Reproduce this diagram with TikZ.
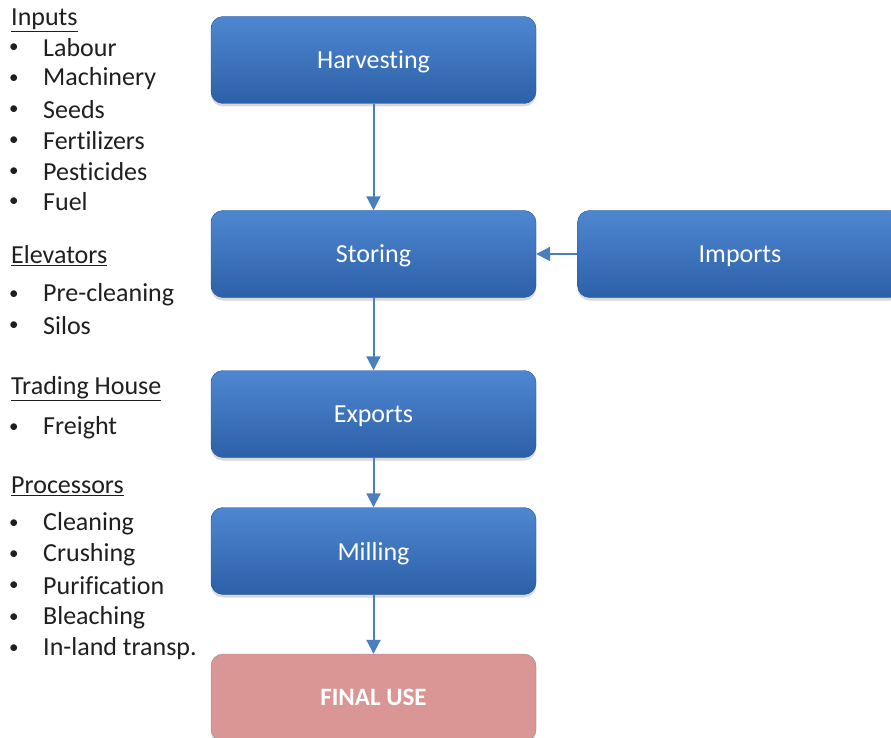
\documentclass[tikz,border=0pt]{standalone}
\usepackage{fontspec}
\setmainfont[Ligatures={NoCommon,NoRequired,NoContextual},RawFeature={-liga;-clig;-dlig}]{Carlito}
\usetikzlibrary{arrows.meta,shadows}
\definecolor{boxtop}{RGB}{78,135,208}
\definecolor{boxbot}{RGB}{44,96,168}
\definecolor{flowline}{RGB}{74,126,190}
\definecolor{finalrose}{RGB}{217,150,148}

\begin{document}
\begin{tikzpicture}[x=1pt,y=-1pt,line join=round,
  stage/.style={rounded corners=12pt,minimum width=325pt,minimum height=87pt,
    top color=boxtop,bottom color=boxbot,draw=boxbot!85!black,line width=0.4pt,
    text=white,text depth=0pt,font=\fontsize{26}{30}\selectfont,
    drop shadow={opacity=0.3,shadow xshift=0pt,shadow yshift=-3pt}},
  flow/.style={flowline,line width=2pt,-{Triangle[length=14pt,width=14pt]}},
  item/.style={anchor=west,inner sep=0pt,text=black!88,font=\fontsize{26}{30}\selectfont}]
  \useasboundingbox (0,0) rectangle (891,738); \clip (0,0) rectangle (891,738);
  \node[stage] (harv) at (373.5,60) {Harvesting};
  \node[stage] (stor) at (373.5,254) {Storing};
  \node[stage] (imp) at (740,254) {Imports};
  \node[stage] (expo) at (373.5,414) {Exports};
  \node[stage] (mill) at (373.5,551) {Milling};
  \node[stage,top color=finalrose,bottom color=finalrose,draw=black!45,
    font=\fontsize{25}{28}\selectfont\bfseries] (final) at (373.5,697.5) {FINAL USE};
  \foreach \a/\b in {harv/stor,imp/stor,stor/expo,expo/mill,mill/final} \draw[flow] (\a) -- (\b);
  \foreach \y/\t [count=\i] in {20/Inputs,256/Elevators,389/Trading House,486/Processors}
    \node[item] (head\i) at (11,\y) {\underline{\t}};
  \foreach \y/\t [count=\i] in {48/Labour,79/Machinery,110/Seeds,141/Fertilizers,172/Pesticides,202/Fuel,
    295/Pre-cleaning,326/Silos,428/Freight,524/Cleaning,555/Crushing,586/Purification,618/Bleaching,649/In-land transp.}
    {\node[item,font=\fontsize{19}{20}\selectfont] (dot\i) at (9,\y) {•}; \node[item] (itm\i) at (43,\y) {\t};}
\end{tikzpicture}
\end{document}
